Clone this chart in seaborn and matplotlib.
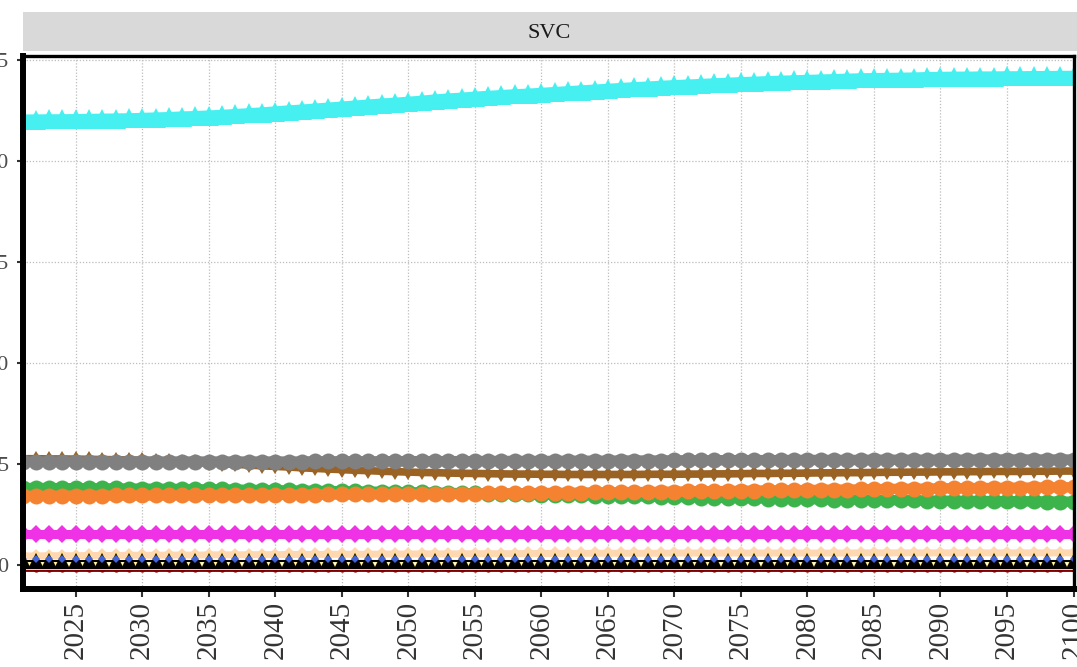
import pandas as pd
import seaborn as sns
import matplotlib.pyplot as plt

# years shown on the x axis, one marker per year
years = list(range(2021, 2101))

# values, one per year 2021..2100 (10 per row)
cyan = [22.05, 22.05, 22.06, 22.06, 22.07, 22.08, 22.09, 22.10, 22.11, 22.13,
        22.15, 22.17, 22.20, 22.22, 22.25, 22.28, 22.32, 22.36, 22.40, 22.45,
        22.50, 22.54, 22.59, 22.64, 22.69, 22.74, 22.79, 22.84, 22.88, 22.93,
        22.98, 23.04, 23.09, 23.13, 23.18, 23.22, 23.26, 23.30, 23.33, 23.37,
        23.41, 23.45, 23.49, 23.53, 23.57, 23.61, 23.65, 23.68, 23.72, 23.75,
        23.78, 23.81, 23.84, 23.87, 23.90, 23.92, 23.95, 23.97, 23.99, 24.01,
        24.03, 24.05, 24.07, 24.09, 24.10, 24.11, 24.12, 24.13, 24.15, 24.16,
        24.17, 24.17, 24.18, 24.18, 24.19, 24.19, 24.20, 24.20, 24.21, 24.21]

grey = [5.12, 5.12, 5.12, 5.12, 5.12, 5.12, 5.12, 5.12, 5.12, 5.12,
        5.12, 5.12, 5.12, 5.12, 5.12, 5.12, 5.12, 5.12, 5.12, 5.12,
        5.12, 5.12, 5.13, 5.13, 5.13, 5.13, 5.13, 5.13, 5.14, 5.14,
        5.14, 5.14, 5.14, 5.14, 5.14, 5.15, 5.15, 5.15, 5.15, 5.15,
        5.15, 5.16, 5.16, 5.16, 5.16, 5.17, 5.17, 5.17, 5.17, 5.18,
        5.18, 5.18, 5.18, 5.19, 5.19, 5.19, 5.19, 5.19, 5.20, 5.20,
        5.20, 5.20, 5.20, 5.20, 5.21, 5.21, 5.21, 5.21, 5.21, 5.21,
        5.21, 5.21, 5.22, 5.22, 5.22, 5.22, 5.22, 5.22, 5.22, 5.22]

brown = [5.26, 5.26, 5.25, 5.25, 5.24, 5.23, 5.22, 5.21, 5.20, 5.18,
         5.16, 5.13, 5.11, 5.08, 5.05, 5.02, 4.98, 4.95, 4.91, 4.88,
         4.85, 4.81, 4.78, 4.75, 4.72, 4.69, 4.67, 4.64, 4.62, 4.60,
         4.58, 4.57, 4.55, 4.54, 4.53, 4.52, 4.51, 4.50, 4.50, 4.49,
         4.49, 4.48, 4.48, 4.48, 4.48, 4.48, 4.48, 4.49, 4.49, 4.49,
         4.50, 4.50, 4.51, 4.51, 4.52, 4.53, 4.53, 4.54, 4.54, 4.55,
         4.56, 4.56, 4.57, 4.57, 4.58, 4.59, 4.59, 4.60, 4.60, 4.61,
         4.61, 4.62, 4.62, 4.63, 4.63, 4.63, 4.64, 4.64, 4.65, 4.65]

green = [3.81, 3.81, 3.81, 3.80, 3.80, 3.80, 3.79, 3.79, 3.78, 3.78,
         3.77, 3.77, 3.76, 3.75, 3.74, 3.74, 3.73, 3.72, 3.71, 3.70,
         3.69, 3.68, 3.67, 3.66, 3.65, 3.64, 3.63, 3.62, 3.61, 3.60,
         3.59, 3.58, 3.57, 3.55, 3.54, 3.53, 3.52, 3.51, 3.49, 3.48,
         3.47, 3.46, 3.45, 3.43, 3.42, 3.41, 3.40, 3.39, 3.37, 3.36,
         3.35, 3.34, 3.33, 3.32, 3.31, 3.30, 3.29, 3.28, 3.27, 3.26,
         3.25, 3.24, 3.24, 3.23, 3.22, 3.21, 3.20, 3.20, 3.19, 3.18,
         3.18, 3.17, 3.17, 3.16, 3.16, 3.15, 3.15, 3.14, 3.14, 3.13]

orange = [3.42, 3.42, 3.42, 3.43, 3.43, 3.43, 3.43, 3.44, 3.44, 3.44,
          3.44, 3.45, 3.45, 3.45, 3.46, 3.46, 3.46, 3.46, 3.47, 3.47,
          3.47, 3.48, 3.48, 3.49, 3.49, 3.49, 3.50, 3.50, 3.51, 3.51,
          3.51, 3.52, 3.52, 3.53, 3.53, 3.54, 3.54, 3.55, 3.55, 3.56,
          3.57, 3.57, 3.58, 3.59, 3.59, 3.60, 3.61, 3.61, 3.62, 3.63,
          3.64, 3.65, 3.65, 3.66, 3.67, 3.68, 3.69, 3.69, 3.70, 3.71,
          3.72, 3.73, 3.73, 3.74, 3.75, 3.76, 3.77, 3.77, 3.78, 3.79,
          3.80, 3.80, 3.81, 3.81, 3.82, 3.83, 3.83, 3.84, 3.84, 3.85]

magenta = [1.52, 1.52, 1.52, 1.52, 1.52, 1.52, 1.52, 1.52, 1.52, 1.52,
           1.52, 1.52, 1.52, 1.52, 1.52, 1.52, 1.52, 1.52, 1.52, 1.52,
           1.52, 1.52, 1.52, 1.52, 1.52, 1.52, 1.52, 1.52, 1.52, 1.52,
           1.52, 1.52, 1.52, 1.52, 1.52, 1.52, 1.52, 1.52, 1.52, 1.52,
           1.52, 1.52, 1.52, 1.52, 1.52, 1.52, 1.52, 1.52, 1.52, 1.52,
           1.52, 1.52, 1.52, 1.52, 1.52, 1.52, 1.52, 1.52, 1.52, 1.52,
           1.52, 1.52, 1.52, 1.52, 1.52, 1.52, 1.52, 1.52, 1.52, 1.52,
           1.52, 1.52, 1.52, 1.52, 1.52, 1.52, 1.52, 1.52, 1.52, 1.52]

apricot = [0.45, 0.45, 0.46, 0.46, 0.46, 0.47, 0.47, 0.47, 0.48, 0.48,
           0.48, 0.49, 0.49, 0.49, 0.50, 0.50, 0.50, 0.51, 0.51, 0.51,
           0.52, 0.52, 0.52, 0.53, 0.53, 0.53, 0.53, 0.54, 0.54, 0.54,
           0.55, 0.55, 0.55, 0.55, 0.56, 0.56, 0.56, 0.56, 0.57, 0.57,
           0.57, 0.57, 0.57, 0.58, 0.58, 0.58, 0.58, 0.58, 0.58, 0.59,
           0.59, 0.59, 0.59, 0.59, 0.59, 0.59, 0.59, 0.59, 0.59, 0.59,
           0.59, 0.59, 0.59, 0.60, 0.60, 0.60, 0.60, 0.60, 0.60, 0.60,
           0.60, 0.60, 0.60, 0.60, 0.60, 0.60, 0.60, 0.60, 0.60, 0.60]

# black and yellow series sit on top of each other near zero
near_zero = [0.22, 0.22, 0.22, 0.22, 0.22, 0.22, 0.22, 0.22, 0.22, 0.22,
             0.22, 0.22, 0.22, 0.22, 0.22, 0.22, 0.22, 0.22, 0.22, 0.22,
             0.22, 0.22, 0.22, 0.22, 0.22, 0.22, 0.22, 0.22, 0.22, 0.22,
             0.22, 0.22, 0.22, 0.22, 0.22, 0.22, 0.22, 0.22, 0.22, 0.22,
             0.22, 0.22, 0.22, 0.22, 0.22, 0.22, 0.22, 0.22, 0.22, 0.22,
             0.22, 0.22, 0.22, 0.22, 0.22, 0.22, 0.22, 0.22, 0.22, 0.22,
             0.22, 0.22, 0.22, 0.22, 0.22, 0.22, 0.22, 0.22, 0.22, 0.22,
             0.22, 0.22, 0.22, 0.22, 0.22, 0.22, 0.22, 0.22, 0.22, 0.22]

blue = [0.28, 0.28, 0.28, 0.28, 0.28, 0.28, 0.28, 0.28, 0.28, 0.28,
        0.28, 0.28, 0.28, 0.28, 0.28, 0.28, 0.28, 0.28, 0.28, 0.28,
        0.28, 0.28, 0.28, 0.28, 0.28, 0.28, 0.28, 0.28, 0.28, 0.28,
        0.28, 0.28, 0.28, 0.28, 0.28, 0.28, 0.28, 0.28, 0.28, 0.28,
        0.28, 0.28, 0.28, 0.28, 0.28, 0.28, 0.28, 0.28, 0.28, 0.28,
        0.28, 0.28, 0.28, 0.28, 0.28, 0.28, 0.28, 0.28, 0.28, 0.28,
        0.28, 0.28, 0.28, 0.28, 0.28, 0.28, 0.28, 0.28, 0.28, 0.28,
        0.28, 0.28, 0.28, 0.28, 0.28, 0.28, 0.28, 0.28, 0.28, 0.28]

maroon = [-0.22, -0.22, -0.22, -0.22, -0.22, -0.22, -0.22, -0.22, -0.22, -0.22,
          -0.22, -0.22, -0.22, -0.22, -0.22, -0.22, -0.22, -0.22, -0.22, -0.22,
          -0.22, -0.22, -0.22, -0.22, -0.22, -0.22, -0.22, -0.22, -0.22, -0.22,
          -0.22, -0.22, -0.22, -0.22, -0.22, -0.22, -0.22, -0.22, -0.22, -0.22,
          -0.22, -0.22, -0.22, -0.22, -0.22, -0.22, -0.22, -0.22, -0.22, -0.22,
          -0.22, -0.22, -0.22, -0.22, -0.22, -0.22, -0.22, -0.22, -0.22, -0.22,
          -0.22, -0.22, -0.22, -0.22, -0.22, -0.22, -0.22, -0.22, -0.22, -0.22,
          -0.22, -0.22, -0.22, -0.22, -0.22, -0.22, -0.22, -0.22, -0.22, -0.22]

yticks = [0, 5, 10, 15, 20, 25]
xticks = [2025, 2030, 2035, 2040, 2045, 2050, 2055, 2060,
          2065, 2070, 2075, 2080, 2085, 2090, 2095, 2100]
panel_title = "SVC"

# drawing order, bottom to top: name -> (values, colour, marker, marker size, line width)
series = [
    ("brown", brown, "#9a6324", "d", 8.0, 5.5),
    ("grey", grey, "#808080", "o", 11.5, 7.5),
    ("green", green, "#3cb44b", "o", 11.5, 7.5),
    ("orange", orange, "#f58231", "o", 11.5, 7.5),
    ("magenta", magenta, "#f032e6", "D", 9.5, 6.5),
    ("cyan", cyan, "#46f0f0", "^", 14.0, 7.5),
    ("apricot", apricot, "#ffd8b1", "D", 7.5, 5.0),
    ("maroon", maroon, "#800000", "o", 4.5, 3.5),
    ("yellow", near_zero, "#ffe119", "^", 13.5, 1.0),
    ("black", near_zero, "#000000", "^", 12.0, 1.5),
    ("blue", blue, "#4363d8", "D", 3.8, 0.0),
]

rows = []
for name, vals, *_ in series:
    rows.append(pd.DataFrame({"year": years, "value": vals, "series": name}))
df = pd.concat(rows, ignore_index=True)

sns.set_theme(style="white")
plt.rcParams['font.family'] = ['Liberation Serif', 'DejaVu Serif']

W, H = 1077, 667
fig = plt.figure(figsize=(W / 100, H / 100), dpi=100)
ax = fig.add_axes([22.5 / W, 1 - 589 / H, (1073.5 - 22.5) / W, (589 - 56) / H])

for z, (name, vals, color, marker, ms, lw) in enumerate(series):
    sns.lineplot(data=df[df["series"] == name], x="year", y="value", ax=ax,
                 color=color, marker=marker, markersize=ms, linewidth=lw,
                 markeredgewidth=0, legend=False, zorder=3 + z)

ax.set_xlim(2021, 2100)
ax.set_ylim(-1.19, 25.2)
ax.set_xticks(xticks)
ax.set_yticks(yticks)
ax.set_xlabel("")
ax.set_ylabel("")

ax.set_axisbelow(True)
ax.grid(True, color="#BDBDBD", linestyle=(0, (1, 1.5)), linewidth=0.9)

for side in ["left", "bottom"]:
    ax.spines[side].set_linewidth(4.3)
    ax.spines[side].set_color("black")
for side in ["top", "right"]:
    ax.spines[side].set_linewidth(2.4)
    ax.spines[side].set_color("black")
for sp in ax.spines.values():
    sp.set_zorder(20)

ax.tick_params(axis="x", bottom=True, length=5.8, width=1.5, color="#333333",
               pad=2.9, labelsize=21, labelcolor="#333333", labelrotation=90)
ax.tick_params(axis="y", left=True, length=4.3, width=1.5, color="#333333",
               pad=5.8, labelsize=16, labelcolor="#4D4D4D")

# facet strip on top
sax = fig.add_axes([22.5 / W, 1 - 51 / H, (W - 22.5) / W, 39 / H])
sax.set_facecolor("#D9D9D9")
sax.set_xticks([])
sax.set_yticks([])
for sp in sax.spines.values():
    sp.set_visible(False)
fig.text(549 / W, 1 - 33 / H, panel_title, ha="center", va="center",
         fontsize=16, color="#1A1A1A")

fig.savefig("out.png", dpi=100)
